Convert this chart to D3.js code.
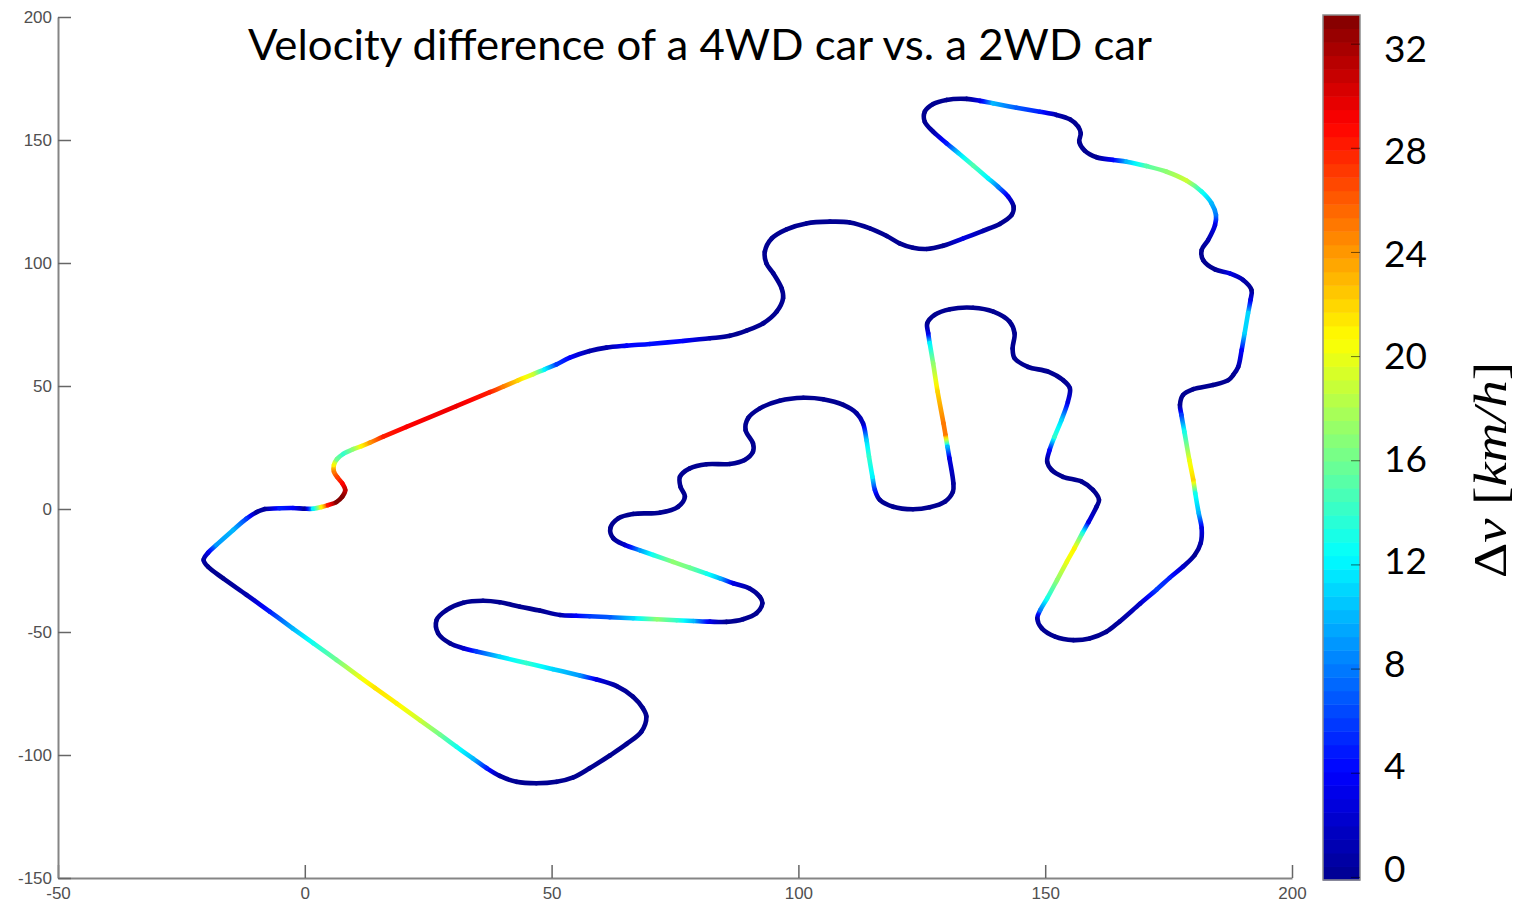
<!DOCTYPE html>
<meta charset="utf-8">
<html>
<style>
body { margin: 0; background: #fff; }
svg { display: block; }
.axis text { font-family: "Liberation Sans", sans-serif; font-size: 17px; fill: #505050; }
.axis .domain { stroke: #858585; stroke-width: 2px; }
.axis line { stroke: #666; stroke-width: 1.5px; }
.cbar-ticks line { stroke: #000; stroke-opacity: 0.55; stroke-width: 1px; }
.cbar-label { font-family: Lato, sans-serif; font-size: 37px; fill: #000; }
</style>
<svg width="1519" height="903"></svg>
<script src="https://d3js.org/d3.v7.min.js"></script>
<script>
// track centre line in metres, one lap
var trackX = [
  -8.1,-5.1,-2.4,0,1.7,3.4,4.7,6.4,7.6,8.2,7.6,6.6,5.9,5.9,6.5,7.8,9.8,11.5,13.2,15.9,20.6,30.7,37.5,40.2,43.2,46.3,48.6,51,
  53.7,57.7,61.1,65.2,69.9,76.6,82.1,86.1,89.5,92.9,95.6,96.9,96.6,94.9,93.5,93.2,94.6,97.6,101.6,106.4,110.4,114.5,117.9,120.5,123.2,126,129.3,
  133.4,137.4,140.8,143.2,143.6,142.5,140.5,138.4,135.4,132.4,130,127.3,125.6,125.6,127.3,130,134.1,136.8,139.4,144.2,148.9,152.3,155,156.7,157.2,156.9,158,160.4,
  163.8,166.5,170.5,174.6,178.6,181.7,183.7,184.6,184.4,183,181.7,182,184.4,187.4,190.1,191.8,191.6,191.1,190.4,189.8,189.1,188.1,187.1,184,180,177.9,177.3,
  177.6,178.2,179.2,180,180.4,181.1,181.7,181.5,180.3,177.9,175.2,172.6,169.2,165.1,162.4,159,155.7,152,149.3,148.4,
  149,150.4,152.4,154.4,155.9,157.5,158.8,160.4,160.9,159.7,157.4,153.6,151.3,150.4,150.9,151.9,153.3,154.6,155,153.6,150.6,146.5,143.8,143.4,143.8,142.8,139.5,135.4,130.7,127.6,126.1,
  126.3,126.6,127.3,128.2,129.4,129.8,130.2,130.6,131.4,131.3,129.7,126.6,123.2,119.2,116.5,115.5,115,114.3,113.8,113.1,111.8,109.1,105,101,96.2,92.2,89.8,89.3,90.8,90.8,89.1,86.1,81.4,78,76,76.1,77,75.6,71.9,66.5,63.5,61.9,62.5,
  64.8,67.9,70.6,74.6,78,81.4,84.1,86.8,90.2,92.2,92.7,91.5,88.8,85.4,82.1,78.7,75.3,71.3,66.5,61.8,57.7,55,51.7,47.6,43.6,39.5,36.1,32.1,28.7,26.7,27,29.4,
  32.1,34.8,39.5,44.9,50.3,55.7,59.1,63.2,66.5,68.5,69.2,68.2,65.2,61.8,57.7,54.4,51,46.9,42.9,39.5,
  36.8,34.1,30.7,27.4,23.3,18.6,14.2,11.1,6.4,1.7,-2.4,-7.1,-11.8,-16.6,-19.6,-20.5,-19.6,-17.9,-14.5,-11.8,-9.8
];
var trackY = [
  0,0.3,0.4,0.1,0.1,0.8,1.6,2.8,5,7.7,10.4,12.9,15.2,17.9,20.2,22.4,24.3,25.6,27,29.4,33.4,41.8,47.5,49.7,52.3,54.8,56.8,58.8,
  61.5,64.2,65.6,66.4,67.1,68.3,69.4,70.4,72.5,75.5,80.2,85.7,89.7,95.8,99.9,104.6,110,113.7,116.1,116.8,116.5,114.1,111,108,106.2,105.7,107,
  110,113.1,115.9,119.5,122.9,127,130.9,134.5,139.6,144.7,148.7,153.4,157.4,161.5,164.6,166.3,166.7,165.9,164.9,163.1,161.5,160.2,158.4,155.4,152.7,149.3,145.7,143,
  141.9,141.2,139.4,137.1,133.5,129,124.3,119.5,115.4,109.3,105.3,101.2,97.4,95.8,93.1,89,85,79.6,71.4,64.6,57.8,54.5,52.4,50.4,48.7,46.3,42.3,
  38.2,31.4,19.9,11.8,6.4,-1.7,-7.8,-13.9,-18.7,-23.5,-28,-32.7,-38.5,-45.7,-49.9,-52.6,-53.3,-51.9,-48.5,-44.4,
  -41.1,-36.3,-28.9,-21.4,-16,-9.9,-5.2,0.9,3.7,7.7,11.1,13.1,15.9,19.2,24,29.4,36.2,43.6,49.1,52.4,55.8,57.8,61.3,65.3,71.4,76.1,80.2,81.8,81.2,78.9,75.5,
  71.4,67.4,59.2,47.7,34.8,30.1,25.3,20.6,10.4,7,3,0.7,-0.1,0.9,3.7,7.7,13.1,21.3,28,34.8,38.9,42.3,44.6,45.2,44,40.9,36.9,32.1,26.7,23.3,19.9,18.3,18.2,16.5,13.1,9.1,5,0.9,-1.5,-2,-3.8,-7.8,-11.9,
  -14.6,-16.8,-18.7,-21.5,-23.9,-26.3,-28.2,-30.2,-32.4,-35.7,-38.3,-42.4,-44.8,-45.9,-45.8,-45.5,-45.2,-44.8,-44.4,-44,-43.6,-43.4,-43.1,-41.3,-39.7,-37.9,-37.3,-38.1,-41.1,-45.1,-50.5,-54.6,
  -56.6,-57.9,-60.1,-62.6,-65.1,-67.7,-69.3,-72,-76.3,-81,-84.4,-90.5,-95.5,-100.2,-105.4,-109.1,-110.9,-111.5,-110.9,-108.5,
  -105.3,-101.5,-96.6,-91.7,-85.8,-79,-72.7,-68.2,-61.3,-54.5,-48.6,-41.7,-34.9,-28.1,-23.5,-20.7,-17.8,-14.6,-8.5,-3.9,-1.3
];
// velocity difference in km/h at each point above
var trackDv = [
  0.5,5,4,0.5,12,21,28,33,33,31,29,27,25,21,16,14,17,21,24,28,29,29.5,28,25,22,19,12,6,
  4,1,1,4,4.5,4,1,0,0,0,0,0,0,0,0,0,0,0,0,0,0,0,0,0,0,0,0,
  3,1,0,0,0,3,8,12,15,11,5,1,0,0,0,0,0,3,10,7,5,1,0,0,0,0,0,0,
  4,10,15,17,19,13,10,8,3,1,0,0,0,3,1,0,3,11,11,4,1,0,0,0,0,0,0,
  6,13,20,22,13,10,3,1,0,2,5,6,2,0.5,0,0,0,0,0,1,
  8,13,17,20,21,14,3,0.5,0,0,0,0,0,0,4,14,11,3,0.5,0,0,0,0,0,0,0,0,0,0,0,0,
  3,12,17,22,25,25,10,3,0.5,0,0,0,0,0,0,5,12,14,11,2,0.5,0,0,0,0,0,0,0,0,0,0,0,0,0,0,0,0,0,0,0,0,0,0,
  2,9,13,17,16,13,10,3,0.5,0,0,0,0,0,3,10,14,17,11,7,6,4,1,0,0,0,0,0,0,0,0,0,
  2,6,11,14,11,9,3,0.5,0,0,0,0,0,0,0,0,0,0,0,0.5,
  5,10,13,16,19,21,21.5,20,16,13,10,5,1,0,0,0.5,3,9,10,6,0.5
];

var xTicks = [-50, 0, 50, 100, 150, 200];
var yTicks = [-150, -100, -50, 0, 50, 100, 150, 200];
var cbarTicks = [0, 4, 8, 12, 16, 20, 24, 28, 32];

// MATLAB jet
var jetColors = ["#00008f", "#0000ff", "#00ffff", "#ffff00", "#ff0000", "#800000"];
var jetPos = [0, 0.125, 0.375, 0.625, 0.875, 1];
var dvMin = -0.12, dvMax = 33.1, jetLevels = 64;

var svg = d3.select("svg");

var x = d3.scaleLinear().domain([-50, 200]).range([58, 1292]);
var y = d3.scaleLinear().domain([-150, 200]).range([878, 17]);
var barY = d3.scaleLinear().domain([dvMin, dvMax]).range([880, 15]);
// the colorbar numbers were placed by hand and do not sit exactly on the ticks
var barLabelY = d3.scaleLinear().domain([0, 32]).range([867, 47]);
var jet = d3.scaleLinear()
    .domain(jetPos.map(function(p) { return dvMin + p * (dvMax - dvMin); }))
    .range(jetColors)
    .clamp(true);

//axes
svg.append("g")
    .attr("class", "axis")
    .attr("transform", "translate(0,878)")
    .call(d3.axisBottom(x).tickValues(xTicks).tickSizeInner(-13).tickSizeOuter(0).tickPadding(9).tickFormat(String));
svg.append("g")
    .attr("class", "axis")
    .attr("transform", "translate(58,0)")
    .call(d3.axisLeft(y).tickValues(yTicks).tickSizeInner(-13).tickSizeOuter(0).tickPadding(6).tickFormat(String));

//the lap, one path piece per pair of points so each gets its own gradient
var n = trackX.length;
var lap = d3.range(n + 1).map(function(i) { return i % n; });
var lapPath = d3.line()
    .x(function(i) { return x(trackX[i]); })
    .y(function(i) { return y(trackY[i]); })
    .curve(d3.curveCatmullRom.alpha(0.5))(lap);
var pieces = lapPath.split("C");
var defs = svg.append("defs");
var track = svg.append("g").attr("fill", "none").attr("stroke-width", 4.6).attr("stroke-linecap", "round");
var start = pieces[0].slice(1);

pieces.slice(1).forEach(function(piece, k) {
  var a = lap[k], b = lap[k + 1];
  var grad = defs.append("linearGradient")
      .attr("id", "seg" + k)
      .attr("gradientUnits", "userSpaceOnUse")
      .attr("x1", x(trackX[a])).attr("y1", y(trackY[a]))
      .attr("x2", x(trackX[b])).attr("y2", y(trackY[b]));
  var dv = d3.interpolateNumber(trackDv[a], trackDv[b]);
  d3.range(0, 1.01, 0.2).forEach(function(t) {
    grad.append("stop").attr("offset", t).attr("stop-color", jet(dv(t)));
  });
  track.append("path")
      .attr("d", "M" + start + "C" + piece)
      .attr("stroke", "url(#seg" + k + ")");
  var nums = piece.split(",");
  start = nums[nums.length - 2] + "," + nums[nums.length - 1];
});

//colorbar
var bandH = (barY(dvMin) - barY(dvMax)) / jetLevels;
svg.append("g").selectAll("rect")
    .data(d3.range(jetLevels))
    .enter().append("rect")
      .attr("x", 1323)
      .attr("width", 37)
      .attr("y", function(d) { return barY(dvMin) - (d + 1) * bandH; })
      .attr("height", bandH + 0.5)
      .attr("fill", function(d) { return jet(dvMin + (d + 0.5) / jetLevels * (dvMax - dvMin)); });
svg.append("rect")
    .attr("x", 1323).attr("y", barY(dvMax))
    .attr("width", 37).attr("height", barY(dvMin) - barY(dvMax))
    .attr("fill", "none").attr("stroke", "#8c8c8c").attr("stroke-width", 1.5);
svg.append("g")
    .attr("class", "cbar-ticks")
    .attr("transform", "translate(1360,0)")
    .call(d3.axisLeft(barY).tickValues(cbarTicks).tickSize(9).tickFormat(""))
    .call(function(g) { g.select(".domain").remove(); });
svg.append("g").selectAll("text")
    .data(cbarTicks)
    .enter().append("text")
      .attr("class", "cbar-label")
      .attr("x", 1384)
      .attr("y", function(d) { return barLabelY(d); })
      .attr("dominant-baseline", "central")
      .text(function(d) { return d; });

//title
svg.append("text")
    .attr("x", 248)
    .attr("y", 60)
    .attr("font-family", "Lato, sans-serif")
    .attr("font-size", 42)
    .attr("textLength", 904)
    .attr("lengthAdjust", "spacingAndGlyphs")
    .text("Velocity difference of a 4WD car vs. a 2WD car");

//colorbar title, rotated
var barTitle = svg.append("text")
    .attr("transform", "translate(1506,578) rotate(-90)")
    .attr("font-family", "'Liberation Serif', serif")
    .attr("font-size", 46)
    .attr("textLength", 216)
    .attr("lengthAdjust", "spacingAndGlyphs");
barTitle.append("tspan").text("Δ");
barTitle.append("tspan").attr("font-style", "italic").text("v");
barTitle.append("tspan").text(" [");
barTitle.append("tspan").attr("font-style", "italic").text("km/h");
barTitle.append("tspan").text("]");
</script>
</html>
